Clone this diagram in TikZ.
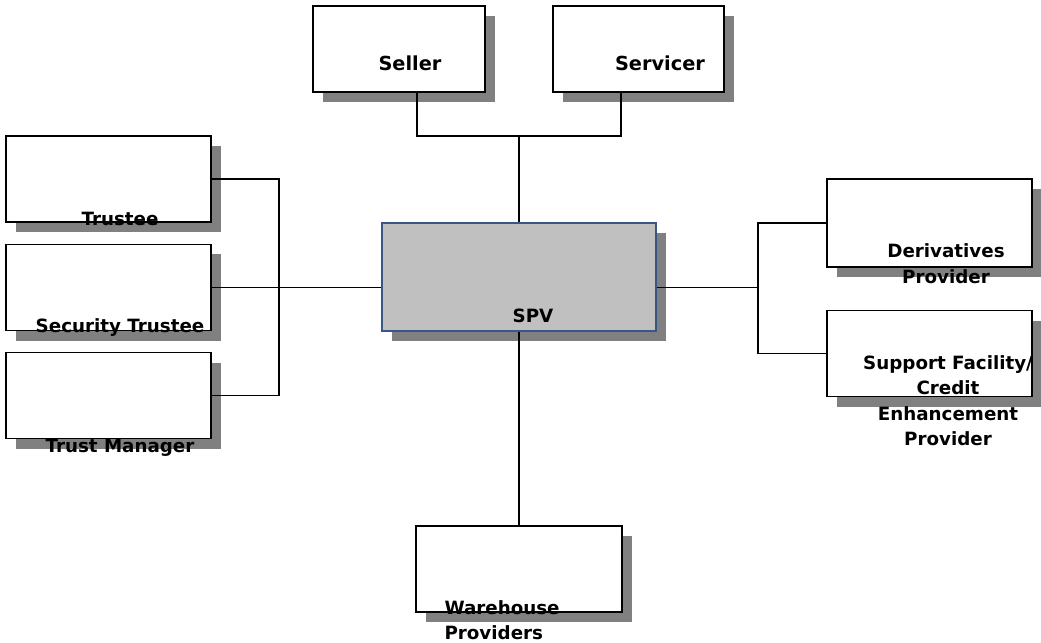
\documentclass[tikz,border=0pt]{standalone}
\usepackage{fontspec}
\setmainfont{DejaVu Sans}
\usetikzlibrary{calc,positioning,shadows}
\definecolor{BoxShadow}{RGB}{128,128,128}
\definecolor{SpvGrey}{RGB}{192,192,192}
\definecolor{SpvEdge}{RGB}{56,87,135}

\begin{document}
\begin{tikzpicture}[line width=0.6pt,
  party/.style={draw,fill=white,inner sep=0pt,minimum height=1.72cm,
    drop shadow={shadow xshift=0.2cm,shadow yshift=-0.2cm,fill=BoxShadow,opacity=1}},
  tag/.style={font=\bfseries\fontsize{10.4}{14.5}\selectfont,align=center,inner sep=0pt},
  bigtag/.style={tag,font=\bfseries\fontsize{11}{14}\selectfont}]
\useasboundingbox (0,0) rectangle (20.82,12.84);
% boxes
\node[party,minimum width=3.44cm] (seller) at (7.98,11.86) {};
\node[party,minimum width=3.42cm] (servicer) at (12.77,11.86) {};
\node[party,minimum width=4.1cm] (trustee) at (2.17,9.26) {};
\node[party,minimum width=4.1cm] (security) at (2.17,7.09) {};
\node[party,minimum width=4.1cm] (manager) at (2.17,4.93) {};
\node[party,minimum width=5.48cm,minimum height=2.16cm,fill=SpvGrey,draw=SpvEdge] (spv) at (10.38,7.3) {};
\node[party,minimum width=4.1cm,minimum height=1.76cm] (deriv) at (18.59,8.38) {};
\node[party,minimum width=4.1cm] (support) at (18.59,5.77) {};
\node[party,minimum width=4.12cm] (warehouse) at (10.38,1.46) {};
% connectors
\coordinate (bus) at (spv.north |- 0,10.12);
\coordinate (lbus) at (5.58,7.1);
\coordinate (rbus) at (15.16,7.1);
\draw ([xshift=0.36cm]seller.south) |- (bus) -| ([xshift=-0.35cm]servicer.south);
\draw (bus) -- (spv.north);
\draw (trustee.east) -| (lbus |- manager.east) -- (manager.east);
\draw (security.east) -- (security.east -| spv.west);
\draw (deriv.west) -| (rbus |- support.west) -- (support.west);
\draw (spv.east |- security.east) -- (rbus |- security.east);
\draw (spv.south) -- (warehouse.north);
% labels
\node[bigtag] (sellertag) at (8.2,11.58) {Seller};
\node[bigtag] (servicertag) at (13.2,11.58) {Servicer};
\node[tag] (trusteetag) at (2.4,8.46) {Trustee};
\node[tag] (securitytag) at (2.4,6.28) {Security Trustee};
\node[tag] (managertag) at (2.4,3.88) {Trust Manager};
\node[tag] (spvtag) at (10.66,6.52) {SPV};
\node[tag] (derivtag) at (18.92,7.57) {Derivatives\\Provider};
\node[tag] (supporttag) at (18.96,4.83) {Support Facility/\\Credit\\Enhancement\\Provider};
\node[tag,align=left,anchor=west] (warehousetag) at (8.88,0.44) {Warehouse\\Providers};
\end{tikzpicture}
\end{document}
